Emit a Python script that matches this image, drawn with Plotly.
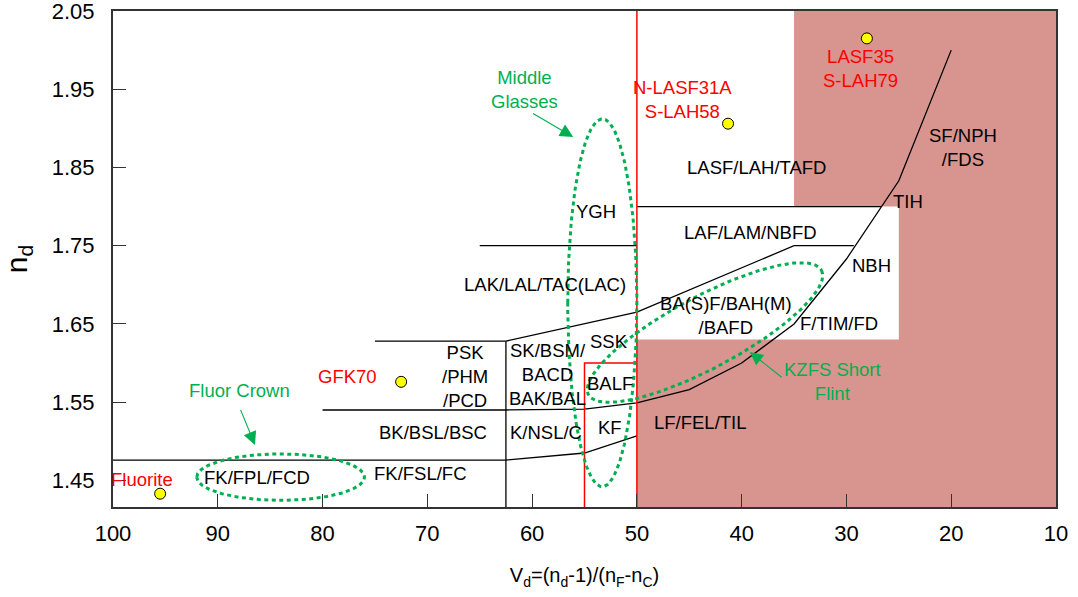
import numpy as np
import plotly.graph_objects as go

# ---------------- data ----------------
X_RANGE = [100, 10]
Y_RANGE = [1.416, 2.05]
x_ticks = [100, 90, 80, 70, 60, 50, 40, 30, 20, 10]
y_ticks = [1.45, 1.55, 1.65, 1.75, 1.85, 1.95, 2.05]

# shaded (pink) region polygon
pink_x = [50, 10, 10, 35, 35, 25, 25, 50, 50]
pink_y = [1.40, 1.40, 2.06, 2.06, 1.80, 1.80, 1.63, 1.63, 1.40]

# black glass-family boundary lines
line_low_x = [100, 62.5, 55, 50]
line_low_y = [1.476, 1.476, 1.485, 1.507]
line_flint_x = [80, 62.5, 55, 50, 45, 40, 35, 30, 25, 20]
line_flint_y = [1.54, 1.54, 1.541, 1.549, 1.566, 1.60, 1.65, 1.733, 1.833, 2.0]
line_v625_x = [62.5, 62.5]
line_v625_y = [1.40, 1.628]
line_mid_x = [75, 62.5, 50, 35, 29.3]
line_mid_y = [1.628, 1.628, 1.665, 1.75, 1.75]
line_175_x = [65, 50]
line_175_y = [1.75, 1.75]
line_180_x = [50, 26.7]
line_180_y = [1.80, 1.80]

# red lines
red_v50_x = [50, 50]
red_v50_y = [1.40, 2.06]
red_box_x = [55, 55, 50]
red_box_y = [1.40, 1.60, 1.60]

# marked glasses
glass_x = [95.5, 72.5, 41.3, 28.05]
glass_y = [1.433, 1.576, 1.906, 2.015]

# glass family labels (black)
fam_text = ["FK/FPL/FCD", "FK/FSL/FC", "BK/BSL/BSC", "PSK<br>/PHM<br>/PCD",
            "SK/BSM/<br>BACD<br>BAK/BAL", "K/NSL/C", "KF", "BALF", "SSK",
            "LAK/LAL/TAC(LAC)", "YGH", "LASF/LAH/TAFD", "LAF/LAM/NBFD",
            "BA(S)F/BAH(M)<br>/BAFD", "NBH", "TIH", "SF/NPH<br>/FDS",
            "F/TIM/FD", "LF/FEL/TIL"]
fam_x = [86.3, 70.7, 69.5, 66.4, 58.5, 58.7, 52.6, 52.6, 52.7, 58.8, 53.9,
         38.55, 39.2, 41.5, 27.6, 24.1, 18.9, 30.7, 43.9]
fam_y = [1.4533, 1.4585, 1.511, 1.5834, 1.585, 1.511, 1.517, 1.574, 1.627,
         1.7005, 1.7936, 1.8495, 1.767, 1.661, 1.725, 1.806, 1.875, 1.651, 1.5234]

# red labels of marked glasses
red_text = ["Fluorite", "GFK70", "N-LASF31A<br>S-LAH58", "LASF35<br>S-LAH79"]
red_x = [97.2, 77.6, 45.6, 28.7]
red_y = [1.4508, 1.5834, 1.937, 1.977]

# green group labels
grn_text = ["Middle<br>Glasses", "Fluor Crown", "KZFS Short<br>Flint"]
grn_x = [60.7, 87.9, 31.3]
grn_y = [1.950, 1.5645, 1.576]

# green arrows: tail -> tip
arrow_tail_x = [60.05, 87.88, 36.04]
arrow_tail_y = [1.920, 1.5421, 1.5803]
arrow_tip_x = [56.08, 86.45, 39.22]
arrow_tip_y = [1.889, 1.4954, 1.6142]

# green ellipses: centre and two half-axis vectors (data units)
ell_cx = [84.0, 53.3, 43.5]
ell_cy = [1.4542, 1.677, 1.639]
ell_ux = [8.0, 3.3, -11.12]
ell_uy = [0.0, 0.0, 0.0796]
ell_vx = [0.0, 0.0, -1.61]
ell_vy = [0.0297, 0.235, -0.0405]

# ---------------- figure ----------------
FONT = "Liberation Sans, Arial, sans-serif"
GREEN = "#00b050"
fig = go.Figure()

fig.add_trace(go.Scatter(x=pink_x, y=pink_y, fill="toself", mode="lines",
                         fillcolor="#d8948f", line=dict(width=0),
                         hoverinfo="skip", showlegend=False))

for lx, ly in [(line_low_x, line_low_y), (line_flint_x, line_flint_y),
               (line_v625_x, line_v625_y), (line_mid_x, line_mid_y),
               (line_175_x, line_175_y), (line_180_x, line_180_y)]:
    fig.add_trace(go.Scatter(x=lx, y=ly, mode="lines",
                             line=dict(color="black", width=1.3),
                             showlegend=False, hoverinfo="skip"))

for lx, ly in [(red_v50_x, red_v50_y), (red_box_x, red_box_y)]:
    fig.add_trace(go.Scatter(x=lx, y=ly, mode="lines",
                             line=dict(color="#ff0000", width=1.5),
                             showlegend=False, hoverinfo="skip"))

t = np.linspace(0, 2 * np.pi, 240)
for cx, cy, ux, uy, vx, vy in zip(ell_cx, ell_cy, ell_ux, ell_uy, ell_vx, ell_vy):
    ex = cx + ux * np.cos(t) + vx * np.sin(t)
    ey = cy + uy * np.cos(t) + vy * np.sin(t)
    fig.add_trace(go.Scatter(x=ex, y=ey, mode="lines",
                             line=dict(color=GREEN, width=3, dash="4px,3.5px"),
                             showlegend=False, hoverinfo="skip"))

fig.add_trace(go.Scatter(x=glass_x, y=glass_y, mode="markers",
                         marker=dict(size=11, color="#ffff00",
                                     line=dict(color="black", width=1)),
                         showlegend=False, cliponaxis=False))

ann = []
for s, x, y in zip(fam_text, fam_x, fam_y):
    ann.append(dict(x=x, y=y, xref="x", yref="y", text=s, showarrow=False,
                    font=dict(family=FONT, size=18.5, color="black")))
for s, x, y in zip(red_text, red_x, red_y):
    ann.append(dict(x=x, y=y, xref="x", yref="y", text=s, showarrow=False,
                    font=dict(family=FONT, size=18.5, color="#ff0000")))
for s, x, y in zip(grn_text, grn_x, grn_y):
    ann.append(dict(x=x, y=y, xref="x", yref="y", text=s, showarrow=False,
                    font=dict(family=FONT, size=18.5, color=GREEN)))
for tx, ty, hx, hy in zip(arrow_tail_x, arrow_tail_y, arrow_tip_x, arrow_tip_y):
    ann.append(dict(x=hx, y=hy, ax=tx, ay=ty, xref="x", yref="y",
                    axref="x", ayref="y", text="", showarrow=True,
                    arrowhead=2, arrowsize=2.4, arrowwidth=1.1,
                    arrowcolor=GREEN, standoff=0))

fig.update_layout(
    width=1078, height=597,
    margin=dict(l=113, r=22, t=11, b=90),
    paper_bgcolor="white", plot_bgcolor="white",
    font=dict(family=FONT, color="black"),
    annotations=ann,
    xaxis=dict(range=X_RANGE, tickvals=x_ticks, ticks="inside", ticklen=13,
               tickwidth=1.3, tickcolor="#333333", showgrid=False, zeroline=False,
               showline=True, linecolor="#333333", linewidth=2, mirror=True,
               automargin=False, ticklabeloverflow="allow",
               tickfont=dict(family=FONT, size=22, color="black"),
               ticklabelstandoff=6,
               title=dict(text="V<sub>d</sub>=(n<sub>d</sub>-1)/(n<sub>F</sub>-n<sub>C</sub>)",
                          font=dict(family=FONT, size=20, color="black"),
                          standoff=23)),
    yaxis=dict(range=Y_RANGE, tickvals=y_ticks, tickformat=".2f",
               ticks="inside", ticklen=13, tickwidth=1.3, tickcolor="#333333",
               showgrid=False, zeroline=False, showline=True,
               linecolor="#333333", linewidth=2, mirror=True,
               automargin=False, ticklabeloverflow="allow",
               tickfont=dict(family=FONT, size=22, color="black"),
               ticklabelstandoff=12,
               title=dict(text="n<sub>d</sub>",
                          font=dict(family=FONT, size=30, color="black"),
                          standoff=19)),
)

fig.write_html("out.html", config={"displayModeBar": False},
               post_script="document.body.style.margin='0';document.body.style.padding='0';")
